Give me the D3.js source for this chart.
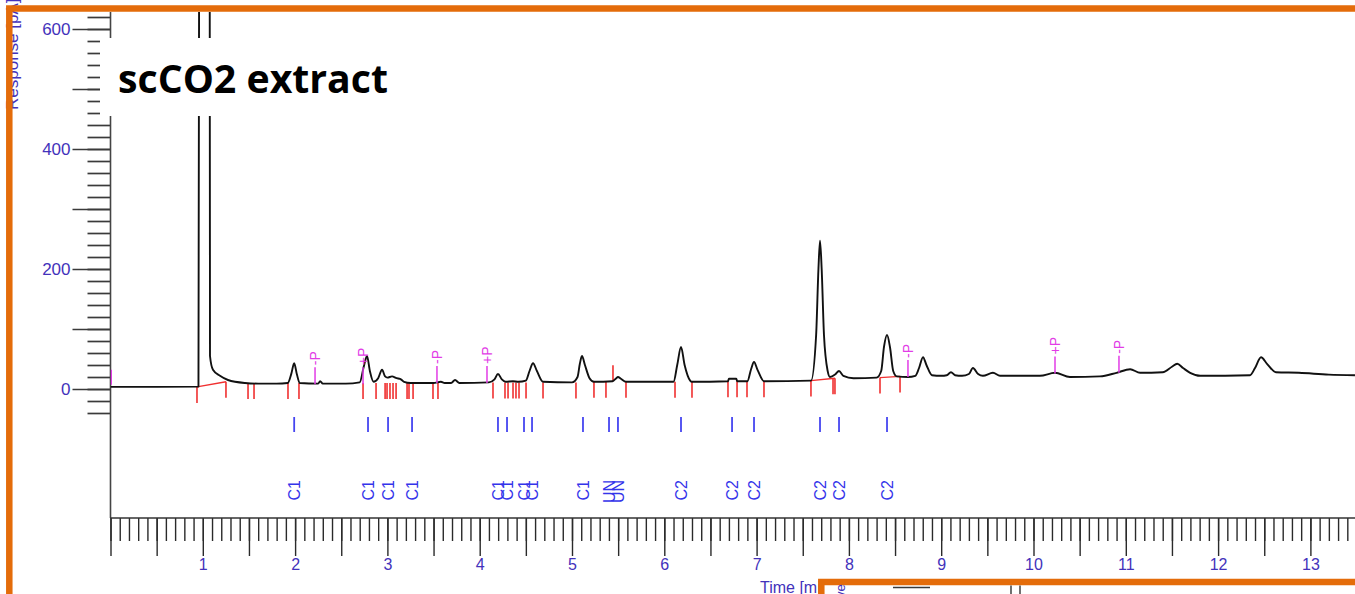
<!DOCTYPE html>
<html>
<head>
<meta charset="utf-8">
<script src="https://cdn.jsdelivr.net/npm/d3@7"></script>
<style>
    html, body { margin: 0; padding: 0; background: #fff; overflow: hidden; }
    svg { display: block; }
    .axis-text { font-family: "Liberation Sans", Arial, sans-serif; fill: #4332bb; }
    .peak-label { font-family: "Liberation Sans", Arial, sans-serif; font-size: 16px; fill: #3434ea; }
    .event-label { font-family: "Liberation Sans", Arial, sans-serif; font-size: 14px; fill: #e23ce6; }
    .title { font-family: "Open Sans", "Noto Sans", sans-serif; font-weight: 700; font-size: 39px; fill: #000; }
</style>
</head>
<body>
<div id="chart"></div>
<script>
    // Chromatogram trace, [time in min, signal].
    // The big solvent peak runs off the top, its apex is only a guess.
const trace = [
    [0, 3.5], [0.5, 3.5], [0.953, 4], [0.964, 1100], [1.013, 1600], [1.073, 1100],
    [1.078, 55], [1.110, 32], [1.186, 22], [1.273, 15], [1.457, 10], [1.60, 9], [1.80, 9],
    [1.92, 10], [1.96, 26], [1.99, 43], [2.02, 24], [2.05, 10],
    [2.25, 9], [2.271, 13], [2.30, 9], [2.55, 9],
    [2.70, 11], [2.745, 38], [2.779, 55], [2.81, 30], [2.85, 12], [2.90, 18], [2.942, 32],
    [2.975, 21], [3.00, 19], [3.05, 21], [3.10, 18], [3.137, 17], [3.18, 12], [3.25, 10],
    [3.50, 10], [3.58, 12], [3.62, 10], [3.69, 10], [3.733, 15], [3.78, 10],
    [4.10, 11], [4.16, 16], [4.198, 25], [4.24, 16], [4.28, 12], [4.36, 13], [4.42, 12],
    [4.50, 14], [4.54, 30], [4.578, 43], [4.62, 30], [4.686, 12],
    [5.00, 11], [5.06, 20], [5.085, 42], [5.108, 55], [5.14, 40], [5.19, 18], [5.238, 12],
    [5.44, 13], [5.48, 18], [5.498, 20], [5.53, 17], [5.585, 12],
    [6.10, 12], [6.14, 40], [6.181, 70], [6.22, 40], [6.28, 14], [6.30, 12],
    [6.69, 13], [6.70, 17], [6.78, 17], [6.79, 13], [6.90, 13],
    [6.94, 33], [6.972, 45], [7.01, 32], [7.08, 13], [7.59, 14],
    [7.645, 90], [7.67, 200], [7.687, 247], [7.705, 200], [7.73, 90], [7.77, 30], [7.795, 20],
    [7.85, 24], [7.893, 30], [7.94, 22], [8.05, 18],
    [8.30, 19], [8.35, 30], [8.38, 70], [8.413, 90], [8.445, 70], [8.48, 30], [8.52, 21],
    [8.64, 20], [8.72, 22], [8.76, 35], [8.803, 53], [8.84, 40], [8.90, 23],
    [9.00, 22], [9.06, 23], [9.106, 28], [9.15, 23], [9.226, 22], [9.30, 25], [9.344, 35],
    [9.40, 25], [9.452, 22], [9.561, 27], [9.637, 22], [10.07, 22], [10.233, 27],
    [10.395, 20], [10.72, 21], [10.90, 27], [11.047, 33], [11.155, 27], [11.40, 28],
    [11.50, 37], [11.557, 42], [11.62, 35], [11.697, 27], [11.806, 22], [12.346, 23],
    [12.40, 35], [12.465, 53], [12.53, 42], [12.627, 28], [12.876, 27], [13.20, 24], [13.483, 23]
];

    // Red integration marks, [time, baseline signal].
const intMarks = [
    [0.937, 3.5], [1.251, 12], [1.490, 10], [1.555, 10], [1.923, 10], [2.042, 10],
    [2.736, 10], [2.877, 10], [2.975, 10], [2.996, 10], [3.028, 10], [3.061, 10], [3.094, 10],
    [3.213, 10], [3.234, 10], [3.278, 10], [3.494, 10], [3.548, 10],
    [4.144, 11], [4.274, 11], [4.307, 11], [4.361, 11], [4.393, 11], [4.426, 11], [4.502, 11],
    [4.686, 11], [5.043, 11], [5.238, 12], [5.368, 12], [5.585, 12],
    [6.116, 12], [6.300, 12], [6.690, 13], [6.788, 13], [6.896, 13], [7.080, 13],
    [7.589, 14], [7.828, 18], [7.849, 18], [8.337, 19], [8.554, 21]
];
const intMarksUp = [[5.444, 13]];
const intBaselines = [
    [[0.937, 3.5], [1.251, 12]],
    [[7.589, 14], [7.849, 18]],
    [[8.337, 19], [8.554, 21]]
];

    // Identified peaks: retention time and compound class.
const peakTimes = [1.990, 2.790, 3.007, 3.267, 4.198, 4.296, 4.480, 4.567, 5.119,
    5.401, 5.498, 6.181, 6.734, 6.972, 7.687, 7.893, 8.413];
const peakLabels = ["C1", "C1", "C1", "C1", "C1", "C1", "C1", "C1", "C1",
    "UN", "UN", "C2", "C2", "C2", "C2", "C2", "C2"];

    // Integration events (magenta), time, sign and signal where the mark starts.
const eventTimes = [2.216, 2.736, 3.537, 4.079, 8.640, 10.233, 10.926];
const eventSigns = ["-", "+", "-", "+", "-", "+", "-"];
const eventBase = [8, 8, 10, 10, 20, 26, 27];
const startMark = [[0, 7], [0, 32]];

    // Axis ticks.
const yMinorTicks = d3.range(-40, 621, 20);
const yMajorTicks = [0, 100, 200, 300, 400, 500, 600];
const yTickLabels = [0, 200, 400, 600];
const xMinorTicks = d3.range(0, 135).map(i => i / 10);
const xMajorTicks = d3.range(0, 28).map(i => i / 2);
const xTickLabels = [1, 2, 3, 4, 5, 6, 7, 8, 9, 10, 11, 12, 13];

const width = 1355;
const height = 594;
const plot = { left: 110.5, right: 1355, top: 12, bottom: 518 };

const svg = d3.select("#chart")
    .append("svg")
    .attr("width", width)
    .attr("height", height);

svg.append("rect").attr("width", width).attr("height", height).attr("fill", "#fff");

const x = d3.scaleLinear().domain([0, 13.48]).range([plot.left, 1354.7]);
const y = d3.scaleLinear().domain([0, 600]).range([389, 29]);

svg.append("clipPath").attr("id", "plot-clip")
    .append("rect")
    .attr("x", plot.left).attr("y", plot.top)
    .attr("width", plot.right - plot.left).attr("height", plot.bottom - plot.top);

    // Y axis: minor ticks every 20, long ticks every 100.
const gy = svg.append("g").attr("transform", `translate(${plot.left},0)`);
gy.append("g")
    .call(d3.axisLeft(y).tickValues(yMinorTicks).tickSize(23).tickFormat(""));
gy.append("g")
    .call(d3.axisLeft(y).tickValues(yMajorTicks).tickSize(38).tickPadding(2)
        .tickFormat(d => yTickLabels.includes(d) ? d : ""));
gy.selectAll(".domain").remove();
gy.selectAll("line").attr("stroke", "#3a3a3a").attr("stroke-width", 1.7);
gy.selectAll("text").attr("class", "axis-text").attr("font-size", 17).attr("font-family", null).attr("fill", null);

    // X axis: minor every 0.1 min, long ticks every 0.5 min.
const gx = svg.append("g").attr("transform", `translate(0,${plot.bottom})`);
gx.append("g")
    .call(d3.axisBottom(x).tickValues(xMinorTicks).tickSize(23).tickFormat(""));
gx.append("g")
    .call(d3.axisBottom(x).tickValues(xMajorTicks).tickSize(38).tickPadding(3)
        .tickFormat(d => xTickLabels.includes(d) ? d : ""));
gx.selectAll(".domain").remove();
gx.selectAll("line").attr("stroke", "#2a2a2a").attr("stroke-width", 1.4);
gx.selectAll("text").attr("class", "axis-text").attr("font-size", 16).attr("font-family", null).attr("fill", null);

    // Axis lines.
svg.append("line")
    .attr("x1", plot.left).attr("x2", plot.left)
    .attr("y1", plot.top).attr("y2", plot.bottom)
    .attr("stroke", "#444").attr("stroke-width", 1.6);
svg.append("line")
    .attr("x1", plot.left).attr("x2", plot.right)
    .attr("y1", plot.bottom).attr("y2", plot.bottom)
    .attr("stroke", "#333").attr("stroke-width", 1.5);

const chart = svg.append("g").attr("clip-path", "url(#plot-clip)");

    // Red integration baselines and tick marks.
chart.selectAll(".int-base")
    .data(intBaselines)
    .join("line")
    .attr("x1", d => x(d[0][0])).attr("y1", d => y(d[0][1]))
    .attr("x2", d => x(d[1][0])).attr("y2", d => y(d[1][1]))
    .attr("stroke", "#f03030").attr("stroke-width", 1.4);

chart.selectAll(".int-mark")
    .data(intMarks)
    .join("line")
    .attr("x1", d => x(d[0])).attr("x2", d => x(d[0]))
    .attr("y1", d => y(d[1])).attr("y2", d => y(d[1]) + 16)
    .attr("stroke", "#f03030").attr("stroke-width", 1.6);

chart.selectAll(".int-up")
    .data(intMarksUp)
    .join("line")
    .attr("x1", d => x(d[0])).attr("x2", d => x(d[0]))
    .attr("y1", d => y(d[1])).attr("y2", d => y(d[1]) - 16)
    .attr("stroke", "#f03030").attr("stroke-width", 1.6);

    // Signal trace.
const line = d3.line()
    .x(d => x(d[0]))
    .y(d => y(d[1]))
    .curve(d3.curveMonotoneX);

chart.append("path")
    .datum(trace)
    .attr("d", line)
    .attr("fill", "none")
    .attr("stroke", "#111")
    .attr("stroke-width", 1.9)
    .attr("stroke-linejoin", "round");

    // Start-of-run marker.
chart.append("line")
    .attr("x1", x(startMark[0][0]) + 0.8).attr("x2", x(startMark[1][0]) + 0.8)
    .attr("y1", y(startMark[0][1])).attr("y2", y(startMark[1][1]))
    .attr("stroke", "#e23ce6").attr("stroke-width", 1.4);

    // Integration events.
const events = eventTimes.map((t, i) => ({ t, sign: eventSigns[i], base: eventBase[i] }));

chart.selectAll(".event-line")
    .data(events)
    .join("line")
    .attr("x1", d => x(d.t)).attr("x2", d => x(d.t))
    .attr("y1", d => y(d.base)).attr("y2", d => y(d.base) - 17)
    .attr("stroke", "#e23ce6").attr("stroke-width", 1.5);

chart.selectAll(".event-label")
    .data(events)
    .join("text")
    .attr("class", "event-label")
    .attr("transform", d => `translate(${x(d.t)},${y(d.base) - 19}) rotate(-90)`)
    .attr("dy", "0.36em")
    .text(d => d.sign + "P");

    // Peak identification ticks and labels.
const peaks = peakTimes.map((t, i) => ({ t, label: peakLabels[i] }));

svg.selectAll(".peak-tick")
    .data(peaks)
    .join("line")
    .attr("x1", d => x(d.t)).attr("x2", d => x(d.t))
    .attr("y1", 417).attr("y2", 432)
    .attr("stroke", "#4545f0").attr("stroke-width", 1.8);

svg.selectAll(".peak-label")
    .data(peaks)
    .join("text")
    .attr("class", "peak-label")
    .attr("transform", d => `translate(${x(d.t)},480) rotate(-90)`)
    .attr("text-anchor", "end")
    .attr("dy", "0.36em")
    .text(d => d.label);

    // Y axis title, partly hidden under the frame.
svg.append("text")
    .attr("class", "axis-text")
    .attr("font-size", 17)
    .attr("transform", "translate(17.5,110) rotate(-90)")
    .text("Response [pA]");

    // Title box.
svg.append("rect")
    .attr("x", 100).attr("y", 38)
    .attr("width", 300).attr("height", 78)
    .attr("fill", "#fff");

svg.append("text")
    .attr("class", "title")
    .attr("x", 118).attr("y", 93)
    .attr("textLength", 270)
    .attr("lengthAdjust", "spacingAndGlyphs")
    .text("scCO2 extract");

    // X axis title, cut off by the next panel.
svg.append("text")
    .attr("class", "axis-text")
    .attr("font-size", 16)
    .attr("x", 760).attr("y", 593)
    .text("Time [min]");

    // Orange panel frame.
svg.append("rect")
    .attr("x", 9.3).attr("y", 8.5)
    .attr("width", 1500).attr("height", 800)
    .attr("fill", "none")
    .attr("stroke", "#e46c0a")
    .attr("stroke-width", 6.5);

    // Top edge of the next panel peeking in at the bottom right.
const next = svg.append("g");
next.append("rect")
    .attr("x", 821.3).attr("y", 582)
    .attr("width", 700).attr("height", 200)
    .attr("fill", "#fff")
    .attr("stroke", "#e46c0a")
    .attr("stroke-width", 6.5);
next.append("text")
    .attr("class", "axis-text")
    .attr("font-size", 13)
    .attr("transform", "translate(845,598) rotate(-90)")
    .text("ve");
next.append("line")
    .attr("x1", 893).attr("x2", 930).attr("y1", 587.5).attr("y2", 587.5)
    .attr("stroke", "#3a3a3a").attr("stroke-width", 1.6);
next.selectAll(".peak-edge")
    .data([1011, 1020])
    .join("line")
    .attr("x1", d => d).attr("x2", d => d)
    .attr("y1", 585.5).attr("y2", 594)
    .attr("stroke", "#333").attr("stroke-width", 1.4);
</script>
</body>
</html>
